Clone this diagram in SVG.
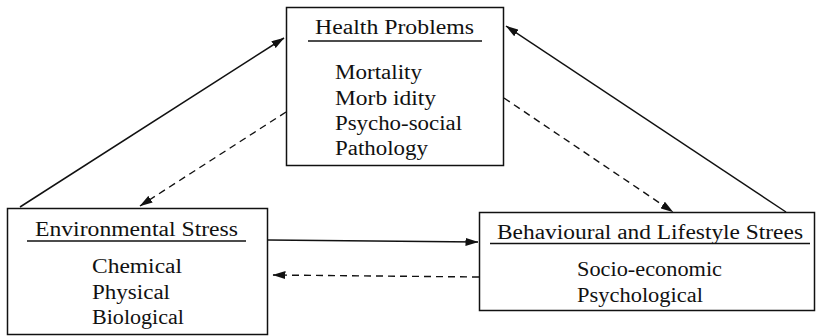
<svg xmlns="http://www.w3.org/2000/svg" width="816" height="336" viewBox="0 0 816 336">
  <defs>
    <marker id="arrow" viewBox="0 0 13 8" refX="12.5" refY="4" markerWidth="13" markerHeight="8" markerUnits="userSpaceOnUse" orient="auto">
      <path d="M0,0 L13,4 L0,8 z" fill="#111"/>
    </marker>
  </defs>
  <style>
    .box { fill: #fff; stroke: #111; stroke-width: 1.5; }
    .rule { stroke: #111; stroke-width: 1.3; }
    .lbl { font-family: "Liberation Serif", "Times New Roman", serif; font-size: 20px; fill: #111; }
    .link { fill: none; stroke: #111; stroke-width: 1.5; marker-end: url(#arrow); }
    .dash { stroke-dasharray: 7 5; stroke-width: 1.4; }
  </style>
  <rect width="816" height="336" fill="#fff"/>

  <g id="connectors">
    <line class="link" x1="20" y1="207" x2="284" y2="38"/>
    <line class="link dash" x1="286" y1="112" x2="140" y2="206"/>
    <line class="link" x1="786" y1="212" x2="506" y2="26"/>
    <line class="link dash" x1="504" y1="98" x2="673" y2="212"/>
    <line class="link" x1="268" y1="240" x2="478" y2="242"/>
    <line class="link dash" x1="479" y1="277" x2="273" y2="275"/>
  </g>

  <g id="health-problems">
    <rect class="box" x="286.5" y="7.5" width="217" height="158"/>
    <text class="lbl" x="315" y="34" textLength="159" lengthAdjust="spacingAndGlyphs">Health Problems</text>
    <line class="rule" x1="308" y1="41" x2="482" y2="41"/>
    <text class="lbl" x="335" y="79" textLength="87" lengthAdjust="spacingAndGlyphs">Mortality</text>
    <text class="lbl" x="335" y="105" textLength="101" lengthAdjust="spacingAndGlyphs">Morb idity</text>
    <text class="lbl" x="335" y="130" textLength="127" lengthAdjust="spacingAndGlyphs">Psycho-social</text>
    <text class="lbl" x="335" y="155" textLength="93" lengthAdjust="spacingAndGlyphs">Pathology</text>
  </g>

  <g id="environmental-stress">
    <rect class="box" x="7.5" y="208.5" width="260" height="126"/>
    <text class="lbl" x="35" y="236" textLength="203" lengthAdjust="spacingAndGlyphs">Environmental Stress</text>
    <line class="rule" x1="27" y1="241" x2="246" y2="241"/>
    <text class="lbl" x="92" y="273" textLength="90" lengthAdjust="spacingAndGlyphs">Chemical</text>
    <text class="lbl" x="92" y="299" textLength="78" lengthAdjust="spacingAndGlyphs">Physical</text>
    <text class="lbl" x="92" y="324" textLength="92" lengthAdjust="spacingAndGlyphs">Biological</text>
  </g>

  <g id="behavioural-stress">
    <rect class="box" x="479.5" y="212.5" width="335" height="98"/>
    <text class="lbl" x="497" y="239" textLength="306" lengthAdjust="spacingAndGlyphs">Behavioural and Lifestyle Strees</text>
    <line class="rule" x1="490" y1="243.5" x2="810" y2="243.5"/>
    <text class="lbl" x="577" y="276" textLength="145" lengthAdjust="spacingAndGlyphs">Socio-economic</text>
    <text class="lbl" x="577" y="302" textLength="126" lengthAdjust="spacingAndGlyphs">Psychological</text>
  </g>
</svg>
